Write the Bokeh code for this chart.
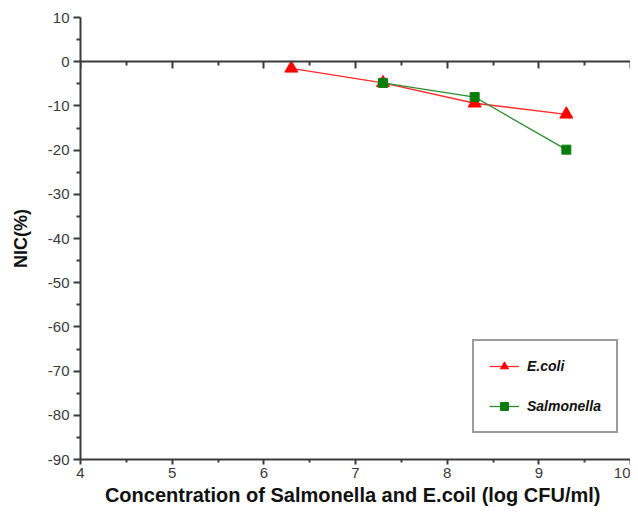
from bokeh.plotting import figure
from bokeh.models import LinearAxis, Legend, LegendItem, Range1d, FixedTicker
from bokeh.embed import file_html
from bokeh.resources import INLINE

# ---- data ----
ecoli_x = [6.3, 7.3, 8.3, 9.3]
ecoli_y = [-1.5, -4.8, -9.4, -11.9]
salm_x = [7.3, 8.3, 9.3]
salm_y = [-4.8, -8.0, -19.9]

x_ticks = [4, 5, 6, 7, 8, 9, 10]
x_minor = [4.5, 5.5, 6.5, 7.5, 8.5, 9.5]
y_ticks = [10, 0, -10, -20, -30, -40, -50, -60, -70, -80, -90]
y_minor = [5, -5, -15, -25, -35, -45, -55, -65, -75, -85]

x_label = "Concentration of Salmonella and E.coil  (log CFU/ml)"
y_label = "NIC(%)"

AX = "#3a3a3a"
FONT = "Liberation Sans"

p = figure(width=630, height=508, output_backend="svg", toolbar_location=None,
           x_range=Range1d(4, 10), y_range=Range1d(-90, 10),
           min_border_left=80, min_border_right=0, min_border_top=17, min_border_bottom=49)
p.outline_line_color = None
p.xgrid.visible = False
p.ygrid.visible = False
p.background_fill_color = "white"

for ax, ticks, minor in ((p.xaxis[0], x_ticks, x_minor), (p.yaxis[0], y_ticks, y_minor)):
    ax.ticker = FixedTicker(ticks=ticks, minor_ticks=minor)
    ax.major_label_overrides = {t: str(t) for t in ticks}
    ax.axis_line_color = AX
    ax.axis_line_width = 2
    ax.major_tick_line_color = AX
    ax.minor_tick_line_color = AX
    ax.major_tick_line_width = 2
    ax.minor_tick_line_width = 2
    ax.major_tick_in = 0
    ax.minor_tick_in = 0
    ax.major_label_text_font = FONT
    ax.major_label_text_font_size = "15px"
    ax.major_label_text_color = "#3a3a3a"
    ax.axis_label_text_font = FONT
    ax.axis_label_text_font_style = "bold"
    ax.axis_label_text_color = "#111111"

p.xaxis[0].major_tick_out = 5
p.xaxis[0].minor_tick_out = 3
p.xaxis[0].major_label_standoff = 3
p.xaxis[0].axis_label = x_label
p.xaxis[0].axis_label_text_font_size = "20px"
p.xaxis[0].axis_label_standoff = 3
p.yaxis[0].major_tick_out = 7
p.yaxis[0].minor_tick_out = 4
p.yaxis[0].major_label_standoff = 4
p.yaxis[0].axis_label = y_label
p.yaxis[0].axis_label_text_font_size = "18px"
p.yaxis[0].axis_label_standoff = 14

# axis line through y = 0
zero_axis = LinearAxis(fixed_location=0,
                       ticker=FixedTicker(ticks=x_ticks, minor_ticks=x_minor),
                       axis_line_color=AX, axis_line_width=2,
                       major_tick_line_color=AX, minor_tick_line_color=AX,
                       major_tick_line_width=2, minor_tick_line_width=2,
                       major_tick_in=7, major_tick_out=0,
                       minor_tick_in=4, minor_tick_out=0,
                       major_label_text_font_size="0px",
                       major_label_text_alpha=0)
p.add_layout(zero_axis, "above")

# series
l1 = p.line(ecoli_x, ecoli_y, line_color="#ff2a2a", line_width=1.3)
s1 = p.scatter(ecoli_x, ecoli_y, marker="triangle", size=13,
               fill_color="#ff0000", line_color="#ff0000")
l2 = p.line(salm_x, salm_y, line_color="#2f8a2f", line_width=1.3)
s2 = p.scatter(salm_x, salm_y, marker="square", size=9,
               fill_color="#0a7d0a", line_color="#0a7d0a")

legend = Legend(items=[LegendItem(label="E.coli", renderers=[l1, s1]),
                       LegendItem(label="Salmonella", renderers=[l2, s2])],
                location=(392, 26),
                padding=15, spacing=20, glyph_width=30, glyph_height=20,
                label_standoff=8, margin=0,
                border_line_color=AX, border_line_width=2,
                label_text_font=FONT, label_text_font_style="bold italic",
                label_text_font_size="14px", label_text_color="#111111",
                background_fill_alpha=1)
p.add_layout(legend, "center")

open("out.html", "w").write(file_html(p, INLINE))
